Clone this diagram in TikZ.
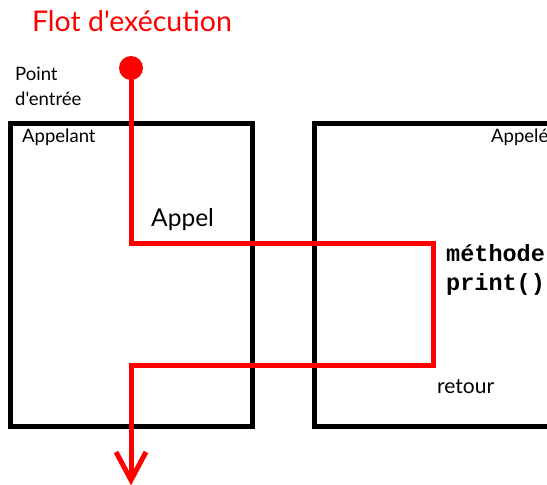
\documentclass[tikz,border=0pt]{standalone}
\usepackage{fontspec}
\setmainfont{Lato}[Ligatures=TeXOff]
\newfontfamily\codefont{Liberation Mono}
\begin{document}
\begin{tikzpicture}[x=1pt,y=-1pt,
  box/.style={draw=black,line width=5pt},
  flow/.style={draw=red,line width=5pt,line join=miter},
  lbl/.style={inner sep=0pt,anchor=base west,font=\fontsize{18.5}{20}\selectfont},
  code/.style={inner sep=0pt,anchor=base west,font=\codefont\bfseries\fontsize{23.5}{25}\selectfont}]
\useasboundingbox (0,0) rectangle (547,485);
\fill[white] (0,0) rectangle (547,485);
% boxes
\draw[box] (10,123.5) rectangle (252,426);
\draw[box] (565,123.5) -- (314,123.5) -- (314,426) -- (565,426);
% texts
\node[inner sep=0pt,anchor=base,text=red,font=\fontsize{28.5}{30}\selectfont] (title) at (132,31) {Flot d'exécution};
\node[lbl] (pt1) at (15,80) {Point};
\node[lbl] (pt2) at (15,105) {d'entrée};
\node[lbl] (caller) at (22,142) {Appelant};
\node[lbl] (callee) at (491,142) {Appelé};
\node[lbl,font=\fontsize{24.5}{26}\selectfont] (appel) at (151,226) {Appel};
\node[code] (m1) at (446,261) {méthode};
\node[code] (m2) at (446,290) {print()};
\node[lbl,font=\fontsize{21}{23}\selectfont] (ret) at (437,393) {retour};
% flow
\coordinate (start) at (131,68);
\coordinate (c1) at (131,243);
\coordinate (c2) at (433,243);
\coordinate (c3) at (433,365);
\coordinate (c4) at (131,365);
\coordinate (tip) at (131,480);
\fill[red] (start) circle (12);
\draw[flow] (start) -- (c1) -- (c2) -- (c3) -- (c4) -- (tip);
\draw[flow,line join=miter] (116,452) -- (tip) -- (146,452);
\end{tikzpicture}
\end{document}
